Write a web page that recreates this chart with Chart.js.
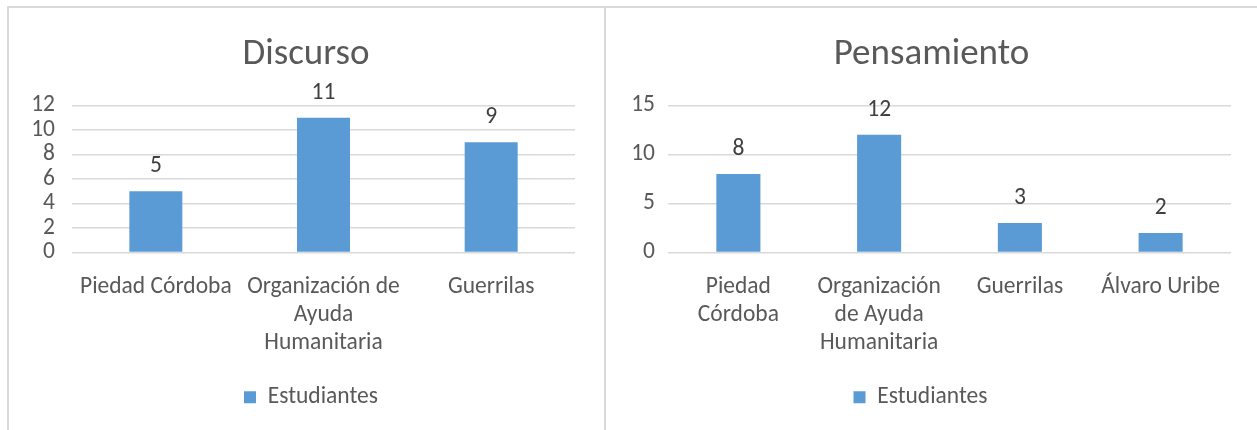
<!DOCTYPE html>
<html>
<head>
<meta charset="utf-8">
<script src="https://cdn.jsdelivr.net/npm/chart.js@4.4.1/dist/chart.umd.min.js"></script>
<style>
  body { margin: 0; background: #fff; width: 1257px; height: 430px; overflow: hidden; position: relative; }
  .frame { position: absolute; top: 6px; height: 430px; border-top: 2px solid #d9d9d9; border-left: 2px solid #d9d9d9; box-sizing: border-box; }
  canvas { position: absolute; top: 6px; }
</style>
</head>
<body>
<div class="frame" style="left:7px; width:597px;"></div>
<div class="frame" style="left:604px; width:653px;"></div>
<canvas id="chartDiscurso" width="597" height="424" style="left:7px"></canvas>
<canvas id="chartPensamiento" width="651" height="424" style="left:604px"></canvas>
<script>
// datos
const discursoLabels = [['Piedad Córdoba'], ['Organización de', 'Ayuda', 'Humanitaria'], ['Guerrilas']];
const discursoValues = [5, 11, 9];
const discursoTicks = { max: 12, step: 2 };

const pensamientoLabels = [['Piedad', 'Córdoba'], ['Organización', 'de Ayuda', 'Humanitaria'], ['Guerrilas'], ['Álvaro Uribe']];
const pensamientoValues = [8, 12, 3, 2];
const pensamientoTicks = { max: 15, step: 5 };

const seriesName = 'Estudiantes';
const barColor = '#5b9bd5';
const textColor = '#595959';
const fontFamily = 'Carlito, Lato, sans-serif';
const textSize = 23.5;

// etiquetas de valor encima de cada barra
const valueLabels = {
    id: 'valueLabels',
    afterDatasetsDraw(chart) {
        const ctx = chart.ctx;
        const meta = chart.getDatasetMeta(0);
        ctx.save();
        ctx.font = `${textSize}px ${fontFamily}`;
        ctx.fillStyle = '#404040';
        ctx.textAlign = 'center';
        ctx.textBaseline = 'middle';
        meta.data.forEach((bar, i) => {
            ctx.fillText(chart.data.datasets[0].data[i], bar.x, bar.y - 25);
        });
        ctx.restore();
    }
};

// el padding derecho descentra titulo y leyenda, se corrige aqui
const boxShift = {
    id: 'boxShift',
    afterLayout(chart, args, opts) {
        chart.titleBlock.left += opts.title;
        chart.titleBlock.right += opts.title;
        chart.legend.left += opts.legend;
        chart.legend.right += opts.legend;
    }
};

function createChart(id, title, labels, values, ticks, yWidth, tickPad, rightPad, barPct, shift) {
    const ctx = document.getElementById(id).getContext('2d');
    return new Chart(ctx, {
        type: 'bar',
        data: {
            labels: labels,
            datasets: [{ label: seriesName, data: values, backgroundColor: barColor, categoryPercentage: 1, barPercentage: barPct }]
        },
        options: {
            responsive: false,
            animation: false,
            layout: { padding: { left: 0, right: rightPad, top: 0, bottom: 11 } },
            plugins: {
                title: {
                    display: true, text: title, color: textColor,
                    font: { family: fontFamily, size: 37, weight: 'normal', lineHeight: 1.2 },
                    padding: { top: 27, bottom: 28 }
                },
                legend: {
                    position: 'bottom',
                    labels: { color: textColor, boxWidth: 12, boxHeight: 12, padding: 10, font: { family: fontFamily, size: textSize } }
                },
                tooltip: { enabled: false },
                boxShift: shift
            },
            scales: {
                x: {
                    grid: { display: false, drawTicks: false },
                    border: { display: false },
                    ticks: { color: textColor, autoSkip: false, maxRotation: 0, padding: 20, font: { family: fontFamily, size: textSize, lineHeight: 1.21 } },
                    afterFit: s => { s.height = 123; }
                },
                y: {
                    min: 0, max: ticks.max,
                    grid: { color: '#d9d9d9', lineWidth: 1.5, drawTicks: false },
                    border: { display: false },
                    ticks: { stepSize: ticks.step, autoSkip: false, color: textColor, padding: tickPad, font: { family: fontFamily, size: textSize } },
                    afterFit: s => { s.width = yWidth; }
                }
            }
        },
        plugins: [valueLabels, boxShift]
    });
}

createChart('chartDiscurso', 'Discurso', discursoLabels, discursoValues, discursoTicks, 65, 17, 29, 0.316, { title: 15, legend: 20 });
createChart('chartPensamiento', 'Pensamiento', pensamientoLabels, pensamientoValues, pensamientoTicks, 64, 13, 24, 0.313, { title: 14, legend: 3 });
</script>
</body>
</html>
